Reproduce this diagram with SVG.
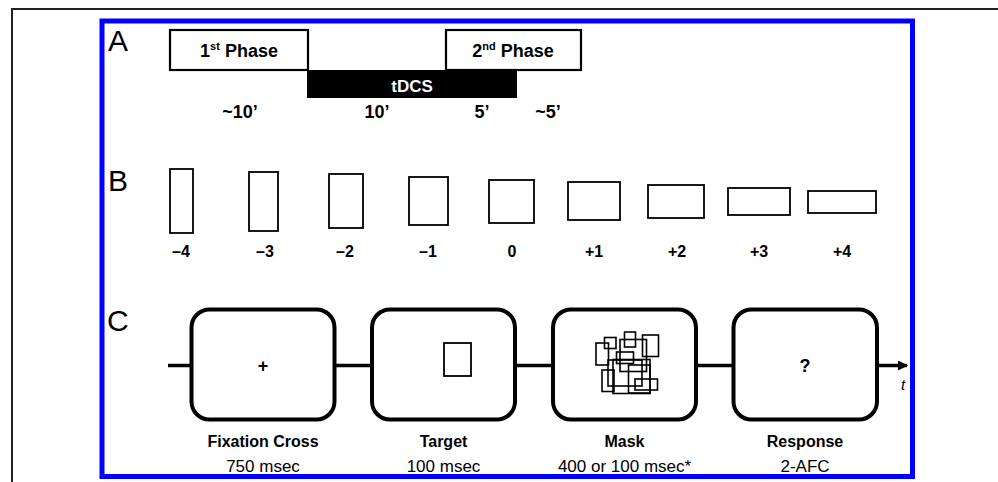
<svg xmlns="http://www.w3.org/2000/svg" width="998" height="482" viewBox="0 0 998 482">
<style>
.lbl{font-family:"Liberation Sans",Arial,sans-serif;font-size:30px;fill:#000}
.b{font-family:"Liberation Sans",Arial,sans-serif;font-weight:bold;fill:#000;text-anchor:middle}
.r{font-family:"Liberation Sans",Arial,sans-serif;fill:#000;text-anchor:middle}
.phase{fill:#fff;stroke:#000;stroke-width:2.2}
.shape{fill:none;stroke:#000;stroke-width:1.8}
.screen{fill:#fff;stroke:#000;stroke-width:4}
.m{fill:none;stroke:#000;stroke-width:1.6}
.conn{stroke:#000;stroke-width:3.5;fill:none}
</style>
<defs>
<marker id="arr" markerWidth="10" markerHeight="10" refX="9" refY="5" orient="auto" markerUnits="userSpaceOnUse" viewBox="0 0 10 10">
<path d="M0,0 L10,5 L0,10 Z" fill="#000"/>
</marker>
</defs>
<rect width="998" height="482" fill="#fff"/>
<path d="M12,482 V9 H998" fill="none" stroke="#222" stroke-width="2"/>
<rect x="102" y="21" width="810.5" height="455.5" fill="none" stroke="#0000ff" stroke-width="5"/>

<text class="lbl" x="108" y="51">A</text>
<text class="lbl" x="108" y="191">B</text>
<text class="lbl" x="107" y="331">C</text>

<g id="phase1">
<rect class="phase" x="170" y="30" width="138" height="40"/>
<text class="b" x="239" y="57" font-size="18">1<tspan font-size="11" dy="-7">st</tspan><tspan dy="7"> Phase</tspan></text>
</g>
<g id="tdcs">
<rect x="307" y="70" width="210" height="28" fill="#000"/>
<text class="b" x="412" y="92" font-size="17" style="fill:#fff">tDCS</text>
</g>
<g id="phase2">
<rect class="phase" x="446" y="30" width="135" height="40"/>
<text class="b" x="513" y="57" font-size="18">2<tspan font-size="11" dy="-7">nd</tspan><tspan dy="7"> Phase</tspan></text>
</g>
<g id="durations">
<text class="b" x="240" y="118" font-size="18">~10’</text>
<text class="b" x="377" y="118" font-size="18">10’</text>
<text class="b" x="482" y="118" font-size="18">5’</text>
<text class="b" x="548" y="118" font-size="18">~5’</text>
</g>

<g id="shapes">
<rect class="shape" x="170" y="169" width="23" height="64"/>
<rect class="shape" x="249" y="172" width="29" height="59"/>
<rect class="shape" x="329" y="174" width="34" height="54"/>
<rect class="shape" x="409" y="177" width="39" height="48"/>
<rect class="shape" x="489" y="180" width="45" height="43"/>
<rect class="shape" x="568" y="182" width="52" height="38"/>
<rect class="shape" x="648" y="185" width="56" height="33"/>
<rect class="shape" x="728" y="188" width="62" height="27"/>
<rect class="shape" x="808" y="191" width="68" height="22"/>
<text class="b" x="181" y="257" font-size="16">–4</text>
<text class="b" x="265" y="257" font-size="16">–3</text>
<text class="b" x="345" y="257" font-size="16">–2</text>
<text class="b" x="428" y="257" font-size="16">–1</text>
<text class="b" x="512" y="257" font-size="16">0</text>
<text class="b" x="594" y="257" font-size="16">+1</text>
<text class="b" x="677" y="257" font-size="16">+2</text>
<text class="b" x="759" y="257" font-size="16">+3</text>
<text class="b" x="842" y="257" font-size="16">+4</text>
</g>

<g id="connectors">
<line class="conn" x1="168" y1="365.5" x2="190" y2="365.5"/>
<line class="conn" x1="336" y1="365.5" x2="371" y2="365.5"/>
<line class="conn" x1="516" y1="365.5" x2="552" y2="365.5"/>
<line class="conn" x1="697" y1="365.5" x2="732" y2="365.5"/>
<line class="conn" x1="879" y1="365.5" x2="907" y2="365.5" marker-end="url(#arr)"/>
</g>

<g id="fixation">
<rect class="screen" x="191.5" y="309.5" width="143" height="110" rx="18"/>
<text class="b" x="263" y="372" font-size="18">+</text>
<text class="b" x="263" y="447" font-size="16">Fixation Cross</text>
<text class="r" x="263" y="472" font-size="17">750 msec</text>
</g>
<g id="target">
<rect class="screen" x="372" y="309.5" width="143" height="110" rx="18"/>
<rect class="shape" x="444" y="343" width="27" height="33"/>
<text class="b" x="443.5" y="447" font-size="16">Target</text>
<text class="r" x="443.5" y="472" font-size="17">100 msec</text>
</g>
<g id="mask">
<rect class="screen" x="553" y="309.5" width="143" height="110" rx="18"/>
<rect class="m" x="596" y="343" width="12.5" height="22"/>
<rect class="m" x="604.5" y="337.5" width="11.5" height="11"/>
<rect class="m" x="624.5" y="332" width="11" height="15"/>
<rect class="m" x="620" y="339.5" width="26.5" height="32"/>
<rect class="m" x="642.5" y="335" width="16" height="21.5"/>
<rect class="m" x="616.5" y="352" width="17" height="11.5"/>
<rect class="m" x="608" y="360" width="34" height="26"/>
<rect class="m" x="602" y="370" width="12" height="21.5"/>
<rect class="m" x="628.5" y="365" width="21.5" height="28"/>
<rect class="m" x="635" y="379" width="22.5" height="11"/>
<rect class="m" x="613" y="359.5" width="37" height="34"/>
<text class="b" x="624.5" y="447" font-size="16">Mask</text>
<text class="r" x="624.5" y="472" font-size="17">400 or 100 msec*</text>
</g>
<g id="response">
<rect class="screen" x="733.5" y="309.5" width="143.5" height="110" rx="18"/>
<text class="b" x="805" y="372" font-size="18">?</text>
<text class="b" x="805" y="447" font-size="16">Response</text>
<text class="r" x="805" y="472" font-size="17">2-AFC</text>
</g>
<text class="r" x="903" y="390" font-size="15" font-style="italic">t</text>
</svg>
